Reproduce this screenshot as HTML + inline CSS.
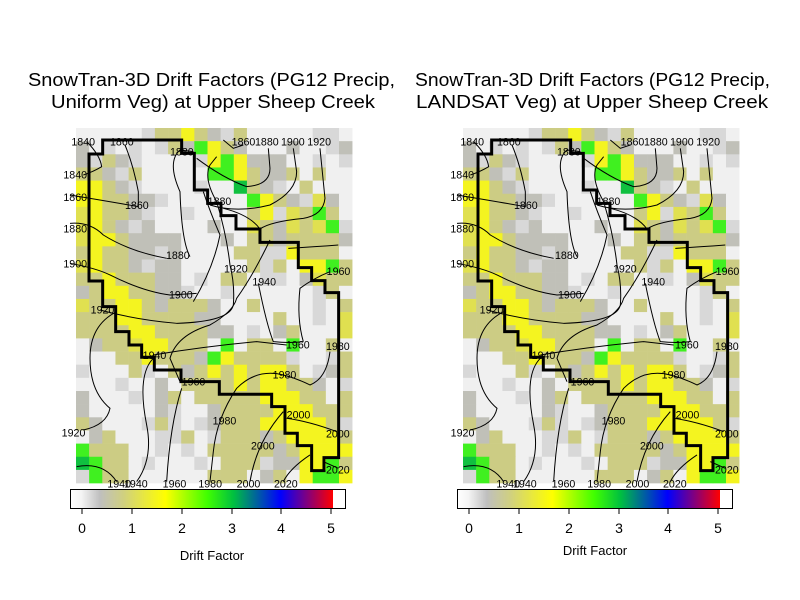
<!DOCTYPE html>
<html><head><meta charset="utf-8"><style>
html,body{margin:0;padding:0;background:#fff;width:800px;height:600px;overflow:hidden}
svg{display:block;font-family:"Liberation Sans",sans-serif}
.t{font-size:18px;fill:#000}
.c text{font-size:32px;fill:#000}
.c path{fill:none;stroke:#000;stroke-width:3}
.c path.b{fill:none;stroke:#000;stroke-width:9}
</style></head><body>
<svg width="800" height="600" viewBox="0 0 800 600">
<text class="t" x="28" y="86" textLength="367" lengthAdjust="spacingAndGlyphs">SnowTran-3D Drift Factors (PG12 Precip,</text>
<text class="t" x="51" y="108" textLength="324" lengthAdjust="spacingAndGlyphs">Uniform Veg) at Upper Sheep Creek</text>
<text class="t" x="415" y="86" textLength="355" lengthAdjust="spacingAndGlyphs">SnowTran-3D Drift Factors (PG12 Precip,</text>
<text class="t" x="416" y="108" textLength="352" lengthAdjust="spacingAndGlyphs">LANDSAT Veg) at Upper Sheep Creek</text>
<g id="cells1" transform="translate(76,128)"></g>
<g id="cells2" transform="translate(463,128)"></g>
<g class="c" transform="translate(70,125) scale(0.3333)">
<path d="M50,50 Q90,90 95,125 Q70,140 40,150"/>
<path d="M165,60 Q190,120 205,200 L205,245 Q150,235 0,210"/>
<path d="M0,295 Q60,290 100,330 Q180,380 290,400"/>
<path d="M360,395 Q335,350 330,200 Q290,110 330,75 L370,80"/>
<path d="M0,415 Q80,430 120,450 Q220,500 300,510 L380,505"/>
<path d="M90,555 Q200,585 320,595 Q480,590 490,540 Q495,480 480,420 Q470,330 440,230 Q400,160 420,120 L440,95"/>
<path d="M140,560 Q60,600 60,700 Q60,800 120,850 Q110,900 40,915"/>
<path d="M250,690 Q400,665 560,650 L650,660"/>
<path d="M370,530 Q430,430 450,330 Q420,260 400,200"/>
<path d="M460,45 L490,70 L520,60 M380,100 Q460,160 530,185 Q600,180 600,130 L595,70"/>
<path d="M420,240 Q500,265 600,240 Q680,200 680,140 L670,70"/>
<path d="M460,250 Q540,270 570,312 Q600,290 700,280 Q760,270 765,220 L750,70"/>
<path d="M655,370 Q740,365 805,360"/>
<path d="M565,475 Q590,600 610,650 Q660,655 700,650"/>
<path d="M600,345 Q550,450 500,520 Q490,560 420,600 Q320,630 300,700 L330,770"/>
<path d="M700,650 Q680,580 690,490 Q730,460 780,440"/>
<path d="M780,680 Q770,760 720,780 Q680,760 640,750 Q560,730 500,790 Q440,880 430,980 L420,1070"/>
<path d="M250,700 Q200,750 230,900 Q250,1000 200,1070"/>
<path d="M335,790 Q300,900 290,1070"/>
<path d="M640,860 Q560,950 540,1070"/>
<path d="M650,880 Q720,890 800,920"/>
<path d="M720,990 Q660,1030 640,1070"/>
<path d="M20,1025 Q100,1010 140,1070"/>
<path d="M760,1010 L805,1030"/>
<text x="4" y="62">1840</text><text x="120" y="62">1860</text><text x="300" y="92">1880</text>
<text x="485" y="62">1860</text><text x="555" y="62">1880</text><text x="633" y="62">1900</text><text x="712" y="62">1920</text>
<text x="-20" y="160">1840</text><text x="-20" y="228">1860</text><text x="165" y="252">1860</text>
<text x="-20" y="322">1880</text><text x="413" y="240">1880</text><text x="-20" y="428">1900</text>
<text x="288" y="402">1880</text><text x="462" y="443">1920</text><text x="547" y="482">1940</text>
<text x="770" y="450">1960</text><text x="297" y="520">1900</text><text x="62" y="566">1920</text>
<text x="648" y="670">1960</text><text x="768" y="675">1980</text><text x="218" y="702">1940</text>
<text x="608" y="760">1980</text><text x="335" y="782">1960</text><text x="650" y="880">2000</text>
<text x="428" y="898">1980</text><text x="768" y="937">2000</text><text x="-25" y="935">1920</text>
<text x="543" y="973">2000</text><text x="768" y="1045">2020</text>
<text x="112" y="1088">1940</text><text x="162" y="1088">1940</text><text x="278" y="1088">1960</text>
<text x="385" y="1088">1980</text><text x="500" y="1088">2000</text><text x="612" y="1088">2020</text>
<path class="b" d="M57,87 L57,468 L98,468 L98,545 L137,545 L137,620 L177,620 L177,660 L215,660 L215,697 L253,697 L253,735 L333,735 L333,770 L448,770 L448,808 L605,808 L605,845 L645,845 L645,925 L682,925 L682,962 L725,962 L725,1037 L762,1037 L762,998 L806,998 L806,503 L765,503 L765,467 L725,467 L725,428 L685,428 L685,352 L570,352 L570,312 L498,312 L498,272 L453,272 L453,235 L413,235 L413,195 L373,195 L373,85 L335,85 L335,45 L98,45 L98,87 Z"/>
</g>
<g class="c" transform="translate(457,125) scale(0.3333)">
<path d="M50,50 Q90,90 95,125 Q70,140 40,150"/>
<path d="M165,60 Q190,120 205,200 L205,245 Q150,235 0,210"/>
<path d="M0,295 Q60,290 100,330 Q180,380 290,400"/>
<path d="M360,395 Q335,350 330,200 Q290,110 330,75 L370,80"/>
<path d="M0,415 Q80,430 120,450 Q220,500 300,510 L380,505"/>
<path d="M90,555 Q200,585 320,595 Q480,590 490,540 Q495,480 480,420 Q470,330 440,230 Q400,160 420,120 L440,95"/>
<path d="M140,560 Q60,600 60,700 Q60,800 120,850 Q110,900 40,915"/>
<path d="M250,690 Q400,665 560,650 L650,660"/>
<path d="M370,530 Q430,430 450,330 Q420,260 400,200"/>
<path d="M460,45 L490,70 L520,60 M380,100 Q460,160 530,185 Q600,180 600,130 L595,70"/>
<path d="M420,240 Q500,265 600,240 Q680,200 680,140 L670,70"/>
<path d="M460,250 Q540,270 570,312 Q600,290 700,280 Q760,270 765,220 L750,70"/>
<path d="M655,370 Q740,365 805,360"/>
<path d="M565,475 Q590,600 610,650 Q660,655 700,650"/>
<path d="M600,345 Q550,450 500,520 Q490,560 420,600 Q320,630 300,700 L330,770"/>
<path d="M700,650 Q680,580 690,490 Q730,460 780,440"/>
<path d="M780,680 Q770,760 720,780 Q680,760 640,750 Q560,730 500,790 Q440,880 430,980 L420,1070"/>
<path d="M250,700 Q200,750 230,900 Q250,1000 200,1070"/>
<path d="M335,790 Q300,900 290,1070"/>
<path d="M640,860 Q560,950 540,1070"/>
<path d="M650,880 Q720,890 800,920"/>
<path d="M720,990 Q660,1030 640,1070"/>
<path d="M20,1025 Q100,1010 140,1070"/>
<path d="M760,1010 L805,1030"/>
<text x="10" y="62">1840</text><text x="120" y="62">1860</text><text x="300" y="92">1880</text>
<text x="491" y="62">1860</text><text x="561" y="62">1880</text><text x="639" y="62">1900</text><text x="718" y="62">1920</text>
<text x="-20" y="160">1840</text><text x="-20" y="228">1860</text><text x="171" y="252">1860</text>
<text x="-20" y="322">1880</text><text x="419" y="240">1880</text><text x="-20" y="428">1900</text>
<text x="294" y="402">1880</text><text x="468" y="443">1920</text><text x="553" y="482">1940</text>
<text x="776" y="450">1960</text><text x="303" y="520">1900</text><text x="68" y="566">1920</text>
<text x="654" y="670">1960</text><text x="774" y="675">1980</text><text x="224" y="702">1940</text>
<text x="614" y="760">1980</text><text x="341" y="782">1960</text><text x="656" y="880">2000</text>
<text x="434" y="898">1980</text><text x="774" y="937">2000</text><text x="-19" y="935">1920</text>
<text x="549" y="973">2000</text><text x="774" y="1045">2020</text>
<text x="118" y="1088">1940</text><text x="168" y="1088">1940</text><text x="284" y="1088">1960</text>
<text x="391" y="1088">1980</text><text x="506" y="1088">2000</text><text x="618" y="1088">2020</text>
<path class="b" transform="translate(6,0)" d="M57,87 L57,468 L98,468 L98,545 L137,545 L137,620 L177,620 L177,660 L215,660 L215,697 L253,697 L253,735 L333,735 L333,770 L448,770 L448,808 L605,808 L605,845 L645,845 L645,925 L682,925 L682,962 L725,962 L725,1037 L762,1037 L762,998 L806,998 L806,503 L765,503 L765,467 L725,467 L725,428 L685,428 L685,352 L570,352 L570,312 L498,312 L498,272 L453,272 L453,235 L413,235 L413,195 L373,195 L373,85 L335,85 L335,45 L98,45 L98,87 Z"/>
</g>
<defs>
<linearGradient id="cb" x1="0" x2="1">
<stop offset="0" stop-color="#ffffff"/><stop offset="0.04" stop-color="#f4f4f4"/>
<stop offset="0.11" stop-color="#bfbfbf"/><stop offset="0.2" stop-color="#d0d080"/>
<stop offset="0.36" stop-color="#ffff00"/><stop offset="0.52" stop-color="#40ff00"/>
<stop offset="0.62" stop-color="#00c040"/><stop offset="0.8" stop-color="#0000ff"/>
<stop offset="0.9" stop-color="#800080"/><stop offset="1" stop-color="#ff0000"/>
</linearGradient>
</defs>
<g font-size="14" text-anchor="middle">
<rect x="70.5" y="489.5" width="275" height="19" fill="#fff" stroke="#000"/>
<rect x="71" y="490" width="262" height="18" fill="url(#cb)"/>
<g stroke="#000"><path d="M82,509v5M132,509v5M182,509v5M232,509v5M281,509v5M331,509v5"/></g>
<text x="82" y="533">0</text><text x="132" y="533">1</text><text x="182" y="533">2</text><text x="232" y="533">3</text><text x="281" y="533">4</text><text x="331" y="533">5</text>
<text x="212" y="560" font-size="13">Drift Factor</text>
<rect x="457.5" y="489.5" width="275" height="19" fill="#fff" stroke="#000"/>
<rect x="458" y="490" width="262" height="18" fill="url(#cb)"/>
<g stroke="#000"><path d="M469,509v5M519,509v5M569,509v5M619,509v5M668,509v5M718,509v5"/></g>
<text x="469" y="533">0</text><text x="519" y="533">1</text><text x="569" y="533">2</text><text x="619" y="533">3</text><text x="668" y="533">4</text><text x="718" y="533">5</text>
<text x="595" y="555" font-size="13">Drift Factor</text>
</g>
</svg>
<script>
var rows=["wwwwwlooyoglowwwwwllw","gwlwlwlogGyogwwwgwwlg","gloglwwwwlyGygggwwlwl","ooglowwwwwGGyoggowoww","yyoglwwwwlwwDoglwowww","yyoogglwwwwwwGyoglpgw","pyooglwwlwwwwoylpoGow","pyoglgwwwwgwwpogpopGl","pyyoggggwwwgwoogoooog","oyoogglgwwwwoollyooow","pyooglggwwwwwolowyyGo","ooyoooggwlwoowllwgpoo","goyyoogglwwlwwwwwwlow","pooyyogooogwwowwwwlwo","oooyyooooggwwwwowwlwp","ooooyyooooggwlwgowwwp","wgoopyyooowGwoowGwwow","wwwooyooogGyoooolwwlo","lwwwolwogoyoyoyyowlgo","wwwlwwgwooooyoyyoogwl","gwwwlwgowoooooyyyoowo","gwwwwwglwwgooooyyyooo","ogwwwlolwlgoooyyyyyol","wgowwwllowlooogoyyyyo","Gooowwlwlwooooogoyyyy","DGoowlwwwlwooolggyyGo","lGoowwwwwwooowgowyGGy"];
var col={w:"#f0f0f0",l:"#d8d8d8",g:"#c0c0b8",o:"#cccc84",p:"#e0e050",y:"#f4f420",G:"#40f020",D:"#10c040"};
var ns="http://www.w3.org/2000/svg",cw=13.15,ch=13.15;
["cells1","cells2"].forEach(function(id){var g=document.getElementById(id);
rows.forEach(function(r,i){for(var j=0;j<r.length;j++){var e=document.createElementNS(ns,"rect");
e.setAttribute("x",(j*cw).toFixed(2));e.setAttribute("y",(i*ch).toFixed(2));e.setAttribute("width",cw+0.3);e.setAttribute("height",ch+0.3);e.setAttribute("fill",col[r[j]]);g.appendChild(e);}});});
</script>
</body></html>
